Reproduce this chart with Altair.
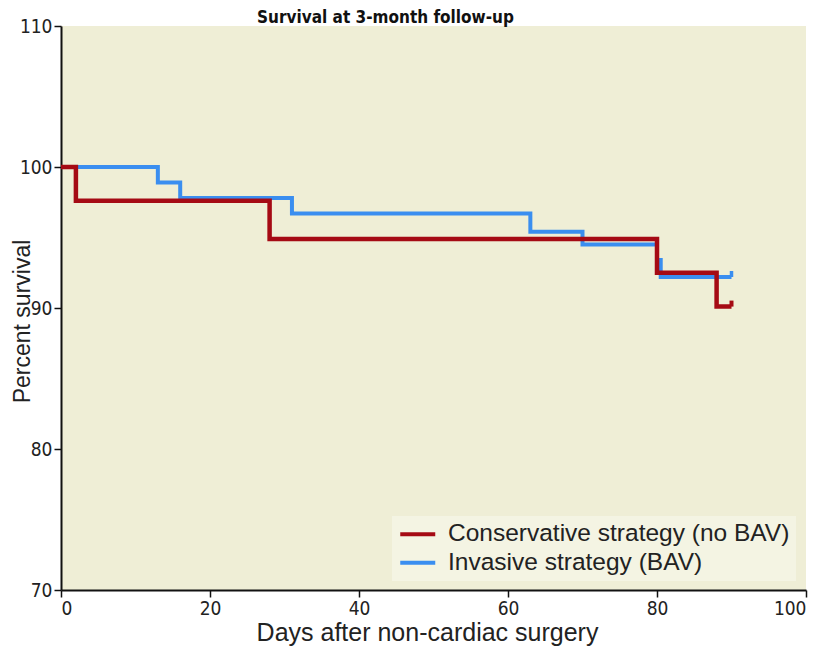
import altair as alt
import pandas as pd

# Kaplan-Meier step data
cons_days = [0, 2, 28, 80, 88, 90]
cons_surv = [100, 97.6, 94.9, 92.5, 90.1, 90.1]
inv_days = [0, 13, 16, 31, 63, 70, 80, 80.5, 90]
inv_surv = [100, 98.9, 97.8, 96.7, 95.4, 94.5, 93.4, 92.2, 92.2]

CONS = "Conservative strategy (no BAV)"
INV = "Invasive strategy (BAV)"

df_c = pd.DataFrame({"day": cons_days, "surv": cons_surv, "group": CONS})
df_i = pd.DataFrame({"day": inv_days, "surv": inv_surv, "group": INV})
end_c = df_c.tail(1)
end_i = df_i.tail(1)

narrow = "DejaVu Sans Condensed, Liberation Sans Narrow, Liberation Sans, sans-serif"
sans = "Liberation Sans, Arial, Helvetica, sans-serif"

color = alt.Color(
    "group:N",
    scale=alt.Scale(domain=[CONS, INV], range=["#a50a14", "#3a8ef0"]),
    legend=alt.Legend(
        title=None,
        orient="none",
        legendX=331,
        legendY=490,
        fillColor="#f4f4e3",
        padding=6,
        symbolType="M-2.5,0H2.5",
        symbolSize=196,
        symbolStrokeWidth=4,
        symbolOpacity=1,
        symbolOffset=7.5,
        labelFont=sans,
        labelFontSize=24.5,
        labelColor="#222222",
        labelLimit=600,
        labelOffset=18,
        rowPadding=3.5,
    ),
)

x = alt.X(
    "day:Q",
    scale=alt.Scale(domain=[0, 100], nice=False),
    axis=alt.Axis(
        values=[0, 20, 40, 60, 80, 100],
        title="Days after non-cardiac surgery",
        titleX=366,
        grid=False,
    ),
)
y = alt.Y(
    "surv:Q",
    scale=alt.Scale(domain=[70, 110], nice=False, zero=False),
    axis=alt.Axis(
        values=[70, 80, 90, 100, 110],
        title="Percent survival",
        titleY=295,
        titleX=-32,
        titleBaseline="alphabetic",
        titleFontSize=23,
        grid=False,
    ),
)

line_i = alt.Chart(df_i).mark_line(interpolate="step-after", strokeWidth=4).encode(x=x, y=y, color=color)
line_c = alt.Chart(df_c).mark_line(interpolate="step-after", strokeWidth=4.5).encode(x=x, y=y, color=color)
tick_i = alt.Chart(end_i).mark_tick(orient="vertical", size=6, thickness=3.5, yOffset=-3, opacity=1).encode(x=x, y=y, color=color)
tick_c = alt.Chart(end_c).mark_tick(orient="vertical", size=6, thickness=4, yOffset=-3, opacity=1).encode(x=x, y=y, color=color)

chart = (
    alt.layer(line_i, line_c, tick_i, tick_c)
    .properties(
        width=745,
        height=564,
        autosize=alt.AutoSizeParams(type="none"),
        padding={"left": 53, "top": 18, "right": 3, "bottom": 62},
        title=alt.Title(
            "Survival at 3-month follow-up",
            font=narrow,
            fontSize=17,
            fontWeight="bold",
            color="#111111",
            anchor="middle",
            dx=-48,
            dy=12,
            offset=2,
        ),
    )
    .configure_view(fill="#efeed6", stroke=None)
    .configure_axis(
        domainColor="#111111",
        domainWidth=2,
        tickColor="#111111",
        tickWidth=1.5,
        tickSize=7,
        labelFont=narrow,
        labelFontSize=19,
        labelColor="#222222",
        titleFont=sans,
        titleFontSize=25,
        titleFontWeight="normal",
        titleColor="#222222",
    )
    .configure_axisX(titlePadding=2, labelPadding=2)
    .configure_axisY(titlePadding=8, labelPadding=2)
)

chart.save("out.html", embed_options={"renderer": "svg", "actions": False})
